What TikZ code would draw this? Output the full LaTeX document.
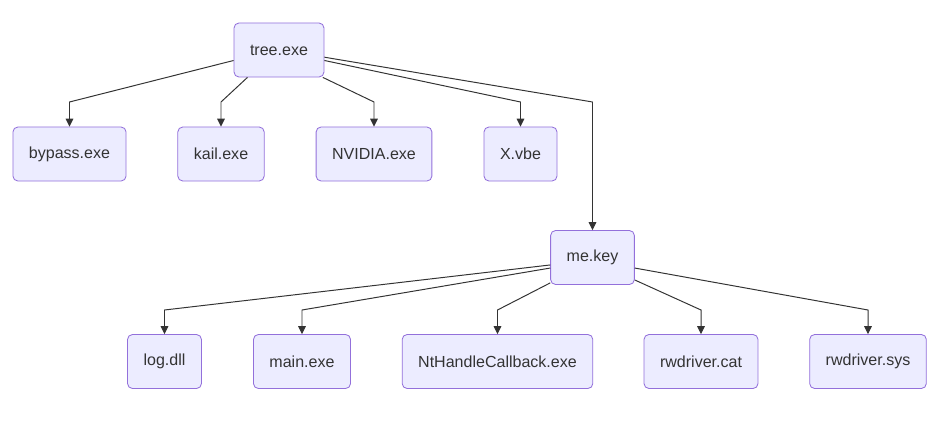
\documentclass[tikz,border=0pt]{standalone}
\usepackage{fontspec}
\setmainfont{Liberation Sans}
\usepackage{tikz}
\usetikzlibrary{arrows.meta, positioning, calc}
\definecolor{mydark}{RGB}{51,51,51}
\definecolor{mypurple}{RGB}{147,112,219}
\definecolor{hdrlav}{RGB}{236,236,255}
\tikzset{
  filenode/.style={rectangle, draw=mypurple, fill=hdrlav, text=mydark,
    inner xsep=0.4cm, minimum height=1.35cm, align=center,
    font=\fontsize{11.4pt}{13pt}\selectfont, rounded corners=3.5pt, line width=0.6pt},
  flowarrow/.style={-{Triangle[length=5.6pt,width=5.4pt]}, line width=0.7pt, color=mydark}
}

\begin{document}
\begin{tikzpicture}[x=0.025cm, y=-0.025cm]
  \useasboundingbox (0,0) rectangle (947,421);

  \node[filenode] (tree) at (279,50) {tree.exe};
  \node[filenode] (bypass) at (69.5,154) {bypass.exe};
  \node[filenode] (kail) at (221,154) {kail.exe};
  \node[filenode] (nvidia) at (374,154) {NVIDIA.exe};
  \node[filenode] (xvbe) at (520.5,154) {X.vbe};
  \node[filenode] (mekey) at (592.5,257.5) {me.key};
  \node[filenode] (logdll) at (164.5,361.5) {log.dll};
  \node[filenode] (mainexe) at (302,361.5) {main.exe};
  \node[filenode] (nthandle) at (497.5,361.5) {NtHandleCallback.exe};
  \node[filenode] (rwcat) at (701,361.5) {rwdriver.cat};
  \node[filenode] (rwsys) at (868,361.5) {rwdriver.sys};

  \coordinate (bendtop) at (0,102);
  \coordinate (bendlow) at (0,310);

  \draw[flowarrow] (tree.193) -- (bypass.north |- bendtop) -- (bypass.north);
  \draw[flowarrow] (tree.221) -- (kail.north |- bendtop) -- (kail.north);
  \draw[flowarrow] (tree.328) -- (nvidia.north |- bendtop) -- (nvidia.north);
  \draw[flowarrow] (tree.347) -- (xvbe.north |- bendtop) -- (xvbe.north);
  \draw[flowarrow] (tree.351) -- (mekey.north |- bendtop) -- (mekey.north);

  \draw[flowarrow] (mekey.190) -- (logdll.north |- bendlow) -- (logdll.north);
  \draw[flowarrow] (mekey.194) -- (mainexe.north |- bendlow) -- (mainexe.north);
  \draw[flowarrow] (mekey.211) -- (nthandle.north |- bendlow) -- (nthandle.north);
  \draw[flowarrow] (mekey.332) -- (rwcat.north |- bendlow) -- (rwcat.north);
  \draw[flowarrow] (mekey.346) -- (rwsys.north |- bendlow) -- (rwsys.north);
\end{tikzpicture}
\end{document}
